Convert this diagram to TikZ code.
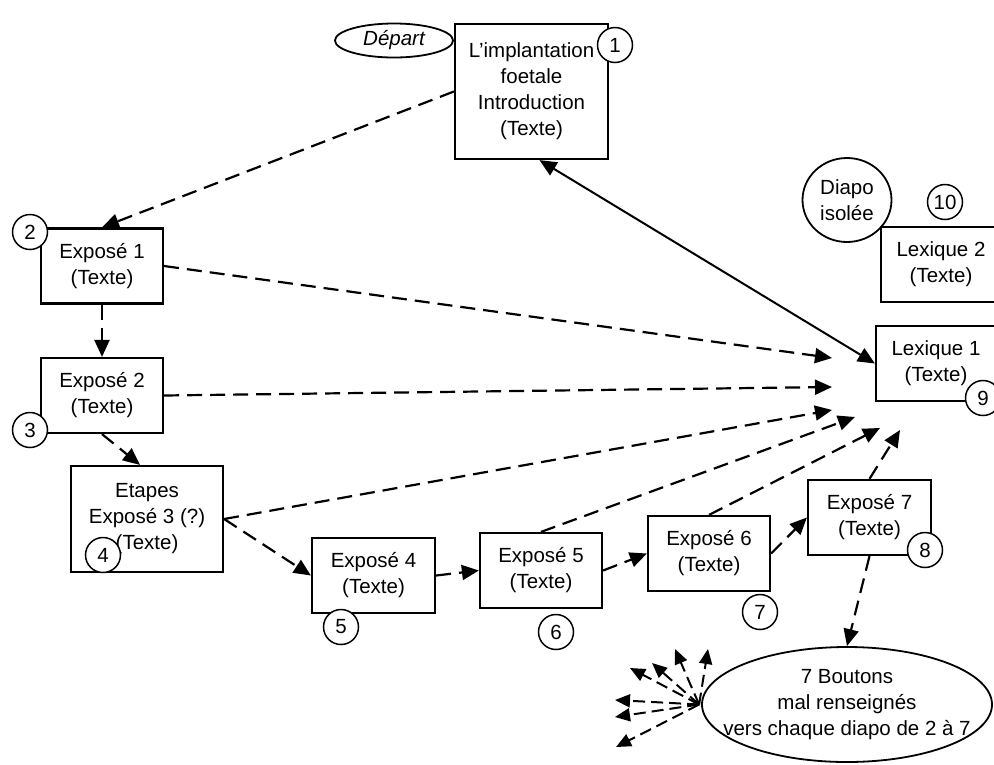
\documentclass[tikz,border=0pt]{standalone}
\usepackage{fontspec}
\setmainfont{Liberation Sans}
\usetikzlibrary{arrows.meta,shapes.geometric}

\begin{document}
\begin{tikzpicture}[x=1pt,y=-1pt,
    every node/.style={font=\fontsize{20.5}{26}\selectfont, align=center, inner sep=0pt},
    diapo/.style={draw, line width=2.2pt, rectangle, minimum width=122pt, minimum height=75pt},
    bulle/.style={draw, line width=1.8pt, ellipse},
    numero/.style={draw, line width=1.5pt, circle, fill=white, minimum size=35pt},
    lien/.style={line width=2.2pt, dash pattern=on 15pt off 8pt, -{Triangle[length=17pt,width=15pt]}},
    eclat/.style={line width=2pt, dash pattern=on 12pt off 6pt, -{Triangle[length=15pt,width=13pt]}},
  ]
  \useasboundingbox (0,0) rectangle (994,764);

  \node[diapo, minimum width=153pt, minimum height=135pt] (intro) at (531.5,91.5) {L'implantation\\foetale\\Introduction\\(Texte)};
  \node[bulle, minimum width=118pt, minimum height=34pt] (depart) at (394,40.5) {\itshape Départ};
  \node[diapo] (expo1) at (102,266) {Exposé 1\\(Texte)};
  \node[diapo] (expo2) at (102,395.5) {Exposé 2\\(Texte)};
  \node[diapo, minimum width=152pt, minimum height=106pt] (expo3) at (147,519) {Etapes\\Exposé 3 (?)\\(Texte)};
  \node[diapo, minimum width=123pt] (expo4) at (373.5,575.5) {Exposé 4\\(Texte)};
  \node[diapo] (expo5) at (541,570.5) {Exposé 5\\(Texte)};
  \node[diapo] (expo6) at (709,553.5) {Exposé 6\\(Texte)};
  \node[diapo, minimum width=123pt] (expo7) at (869.5,517.5) {Exposé 7\\(Texte)};
  \node[diapo, minimum width=120pt] (lex1) at (936,363.5) {Lexique 1\\(Texte)};
  \node[diapo, minimum width=120pt] (lex2) at (941,264.5) {Lexique 2\\(Texte)};
  \node[bulle, minimum width=89pt, minimum height=84pt] (isol) at (847,200) {Diapo\\isolée};
  \node[bulle, minimum width=290pt, minimum height=115pt] (boutons) at (847,704.5) {};
  \node (boutonstxt) at (boutons.center) {7 Boutons\\mal renseignés\\vers chaque diapo de 2 à 7};

  \coordinate (t1) at (832,358);
  \coordinate (t2) at (832,387);
  \coordinate (t3) at (832,410);
  \coordinate (t4) at (855,417);
  \coordinate (t5) at (880,428);
  \coordinate (t6) at (900,430);

  \draw[lien] (intro.west) -- (expo1.north);
  \draw[lien] (expo1.south) -- (expo2.north);
  \draw[lien] (expo2.south) -- ([xshift=-7pt]expo3.north);
  \draw[lien] (expo3.east) -- (expo4.west);
  \draw[lien] (expo4.east) -- (expo5.west);
  \draw[lien] (expo5.east) -- (expo6.west);
  \draw[lien] (expo6.east) -- (expo7.west);
  \draw[lien] (expo7.south) -- (boutons.north);
  \draw[lien] (expo1.east) -- (t1);
  \draw[lien] (expo2.east) -- (t2);
  \draw[lien] (expo3.east) -- (t3);
  \draw[lien] (expo5.north) -- (t4);
  \draw[lien] (expo6.north) -- (t5);
  \draw[lien] (expo7.north) -- (t6);
  \draw[line width=2pt, {Triangle[length=17pt,width=15pt]}-{Triangle[length=17pt,width=15pt]}] ([xshift=8pt]intro.south) -- (lex1.west);

  \coordinate (f1) at (630,668);
  \coordinate (f2) at (652,663);
  \coordinate (f3) at (675,649);
  \coordinate (f4) at (708,649);
  \coordinate (f5) at (615,700);
  \coordinate (f6) at (615,717);
  \coordinate (f7) at (616,747);
  \foreach \k in {1,...,7}
    \draw[eclat] ([xshift=-2pt]boutons.west) -- (f\k);

  \foreach \k/\x/\y in {1/615/45, 2/30/232, 3/30/430, 4/103/555, 5/341/627, 6/556/632, 7/760/612, 8/925/550, 9/983/398, 10/945/202}
    \node[numero] (n\k) at (\x,\y) {\k};
\end{tikzpicture}
\end{document}
